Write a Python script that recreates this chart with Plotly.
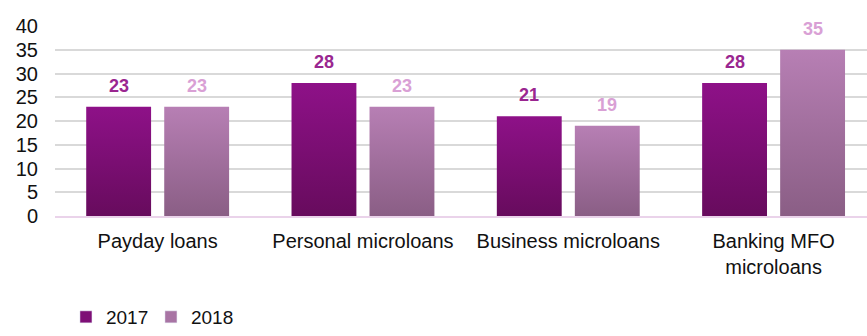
import plotly.graph_objects as go

# Chart data
categories = ["Payday loans", "Personal microloans", "Business microloans", "Banking MFO<br>microloans"]
values_2017 = [23, 28, 21, 28]
values_2018 = [23, 23, 19, 35]
series_names = ["2017", "2018"]
y_ticks = [0, 5, 10, 15, 20, 25, 30, 35, 40]

FONT = "Liberation Sans, Arial, sans-serif"

# Styling per series: gradient bottom/top colours, label colour, offset in the group
styles = [
    dict(top="#8E1188", bottom="#670B5D", legend="#7E0E76", label="#9A2690", offset=-0.19),
    dict(top="#B77FB4", bottom="#8A5E85", legend="#A874A4", label="#D9A0D5", offset=0.19),
]
HALF_WIDTH = 0.158

fig = go.Figure()

for name, values, st in zip(series_names, [values_2017, values_2018], styles):
    for i, v in enumerate(values):
        xc = i + st["offset"]
        # one filled rectangle per bar so it can carry a vertical gradient
        fig.add_trace(go.Scatter(
            x=[xc - HALF_WIDTH, xc + HALF_WIDTH, xc + HALF_WIDTH, xc - HALF_WIDTH, xc - HALF_WIDTH],
            y=[0, 0, v, v, 0],
            mode="lines",
            fill="toself",
            line=dict(width=0, color=st["top"]),
            fillgradient=dict(type="vertical",
                              colorscale=[[0, st["bottom"]], [1, st["top"]]]),
            showlegend=False,
            hoverinfo="skip",
        ))
        fig.add_annotation(
            x=xc, y=v, xref="x", yref="y",
            text=f"<b>{v}</b>", showarrow=False,
            yanchor="middle", yshift=21,
            font=dict(family=FONT, size=18, color=st["label"]),
        )
    # legend entry
    fig.add_trace(go.Bar(x=[None], y=[None], name=name, marker_color=st["legend"]))

fig.update_layout(
    width=867, height=336,
    margin=dict(l=55, r=0, t=26, b=120, autoexpand=False),
    paper_bgcolor="white", plot_bgcolor="white",
    font=dict(family=FONT, size=20, color="#111111"),
    showlegend=True,
    legend=dict(orientation="h", x=0.0135, xanchor="left",
                yref="container", y=0.0, yanchor="bottom",
                font=dict(family=FONT, size=19, color="#111111"),
                entrywidth=40, itemwidth=30, tracegroupgap=0),
    xaxis=dict(range=[-0.5, 3.455], tickmode="array", tickvals=list(range(len(categories))),
               ticktext=categories, showgrid=False, zeroline=False,
               showline=True, linecolor="#EAD3EA", linewidth=2,
               ticklabelstandoff=6, fixedrange=True),
    yaxis=dict(range=[0, 40], tickmode="array", tickvals=y_ticks,
               showgrid=True, gridcolor="#D9D9D9", gridwidth=1.5, zeroline=False,
               ticklabelstandoff=16, fixedrange=True),
)

fig.write_html("out.html")
